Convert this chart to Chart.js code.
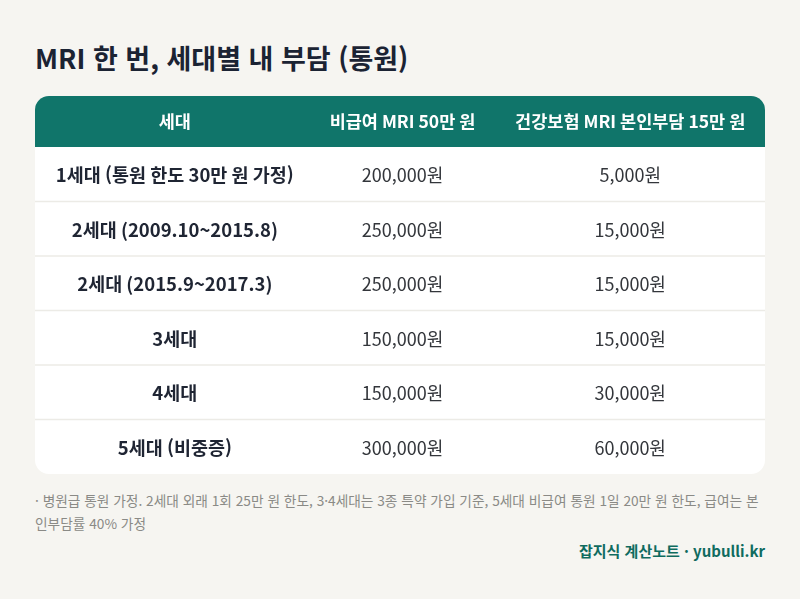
<!DOCTYPE html>
<html lang="ko">
<head>
<meta charset="utf-8">
<script src="https://cdn.jsdelivr.net/npm/chart.js@4"></script>
<style>
  html, body { margin:0; padding:0; background:#f6f5f1; width:800px; height:599px; overflow:hidden;
    font-family:"Noto Sans CJK KR","Noto Sans",sans-serif; }
  #title { position:absolute; left:35px; top:38px; font-size:27px; font-weight:700; color:#1b2333; line-height:40px; }
  #wrap { position:absolute; left:35px; top:96px; width:730px; height:378px; }
  #note { position:absolute; left:35px; top:489px; width:732px; font-size:13.7px; color:#8a8a86; line-height:23px; word-break:break-all; }
  #src { position:absolute; right:35px; top:540px; font-size:15px; font-weight:700; color:#0f6b5f; }
</style>
</head>
<body>
<div id="title">MRI 한 번, 세대별 내 부담 (통원)</div>
<div id="wrap"><canvas id="c"></canvas></div>
<div id="note">· 병원급 통원 가정. 2세대 외래 1회 25만 원 한도, 3·4세대는 3종 특약 가입 기준, 5세대 비급여 통원 1일 20만 원 한도, 급여는 본인부담률 40% 가정</div>
<div id="src">잡지식 계산노트 · yubulli.kr</div>
<script>
const columns = ['세대', '비급여 MRI 50만 원', '건강보험 MRI 본인부담 15만 원'];
const generations = ['1세대 (통원 한도 30만 원 가정)', '2세대 (2009.10~2015.8)', '2세대 (2015.9~2017.3)', '3세대', '4세대', '5세대 (비중증)'];
const nonCovered = [200000, 250000, 250000, 150000, 150000, 300000];
const covered = [5000, 15000, 15000, 15000, 30000, 60000];

const fmt = v => v.toLocaleString('en-US') + '원';
const FONT = '"Noto Sans CJK KR","Noto Sans",sans-serif';

const tablePlugin = {
  id: 'tablePlugin',
  beforeDraw(chart) {
    const ctx = chart.ctx;
    const W = chart.width, H = chart.height;
    const ca = chart.chartArea;
    const r = 14;
    ctx.save();
    ctx.fillStyle = '#ffffff';
    ctx.beginPath();
    ctx.roundRect(0, 0, W, H, r);
    ctx.fill();
    ctx.fillStyle = '#10756a';
    ctx.beginPath();
    ctx.roundRect(0, 0, W, ca.top, [r, r, 0, 0]);
    ctx.fill();
    const y = chart.scales.y;
    ctx.strokeStyle = '#ecebe6';
    ctx.lineWidth = 1.5;
    for (let i = 0; i < generations.length - 1; i++) {
      const yy = (y.getPixelForValue(i) + y.getPixelForValue(i + 1)) / 2;
      ctx.beginPath();
      ctx.moveTo(0, yy);
      ctx.lineTo(W, yy);
      ctx.stroke();
    }
    const x = chart.scales.x;
    ctx.fillStyle = '#ffffff';
    ctx.font = '700 17.5px ' + FONT;
    ctx.textAlign = 'center';
    ctx.textBaseline = 'middle';
    columns.forEach((c, i) => ctx.fillText(c, x.getPixelForValue(i), ca.top / 2));
    ctx.restore();
  },
  afterDatasetsDraw(chart) {
    const ctx = chart.ctx;
    ctx.save();
    ctx.textAlign = 'center';
    ctx.textBaseline = 'middle';
    chart.data.datasets.forEach((ds, di) => {
      const meta = chart.getDatasetMeta(di);
      meta.data.forEach((el, i) => {
        ctx.font = (di === 0 ? '700 18.5px ' : '400 18px ') + FONT;
        ctx.fillStyle = di === 0 ? '#1f2533' : '#33363b';
        ctx.fillText(ds.texts[i], el.x, el.y + 1);
      });
    });
    ctx.restore();
  }
};

new Chart(document.getElementById('c'), {
  type: 'line',
  data: {
    datasets: [
      { texts: generations, data: generations.map(g => ({ x: columns[0], y: g })) },
      { texts: nonCovered.map(fmt), data: nonCovered.map((v, i) => ({ x: columns[1], y: generations[i] })) },
      { texts: covered.map(fmt), data: covered.map((v, i) => ({ x: columns[2], y: generations[i] })) }
    ].map(d => Object.assign(d, { showLine: false, pointRadius: 0, pointHoverRadius: 0 }))
  },
  options: {
    responsive: true,
    maintainAspectRatio: false,
    animation: false,
    events: [],
    layout: { padding: { top: 51, left: 26, right: 21, bottom: 0 } },
    plugins: { legend: { display: false }, tooltip: { enabled: false } },
    scales: {
      x: { type: 'category', labels: columns, offset: true, display: false },
      y: { type: 'category', labels: generations, offset: true, display: false }
    }
  },
  plugins: [tablePlugin]
});
</script>
</body>
</html>
